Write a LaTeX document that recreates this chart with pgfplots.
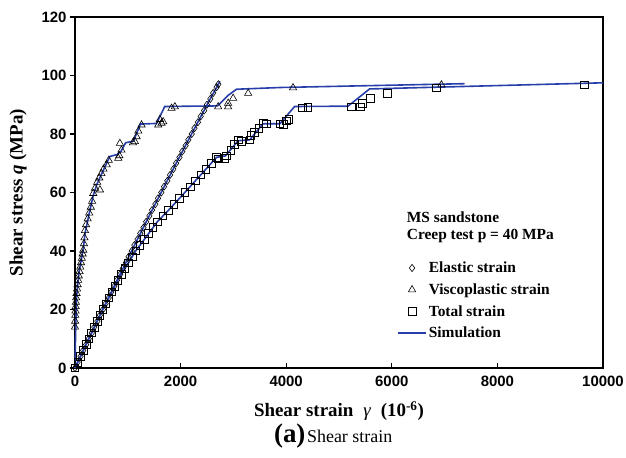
\documentclass[border=0pt]{standalone}
\usepackage{fontspec}
\setmainfont{Liberation Serif}
\newfontfamily\arialfont{Liberation Sans}
\usepackage{pgfplots}
\pgfplotsset{compat=1.18}
\definecolor{simblue}{RGB}{40,62,170}
\pgfplotsset{
  markleg/.style={legend image code/.code={\path (0bp,0bp) (28bp,0bp); \draw[##1] plot coordinates {(14bp,0bp)};}},
  lineleg/.style={legend image code/.code={\draw[##1] (0bp,0bp) -- (28bp,0bp);}},
}
\begin{document}
\begin{tikzpicture}
\begin{axis}[
  scale only axis, width=528bp, height=351bp,
  xmin=0, xmax=10000, ymin=0, ymax=120,
  xtick={0,2000,...,10000}, ytick={0,20,...,120},
  scaled x ticks=false,
  /pgf/number format/1000 sep={},
  /pgf/number format/assume math mode=true,
  tick label style={font=\arialfont\bfseries\fontsize{15}{15}\selectfont},
  tick pos=left, tick align=outside,
  major tick length=5bp,
  major tick style={line width=1.2bp, black},
  xtick style={yshift=5bp},
  axis line style={line width=2.4bp},
  clip=false,
  xlabel={Shear strain\; {\mdseries\itshape γ}\; (10\textsuperscript{-6})},
  ylabel={Shear stress \textit{q} (MPa)},
  label style={font=\bfseries\fontsize{19}{19}\selectfont},
  xlabel style={at={(axis description cs:0.5,-0.1225)}, anchor=center},
  ylabel style={at={(axis description cs:-0.108,0.5)}, anchor=center},
  legend style={draw=none, fill=none, at={(rel axis cs:0.610,0.3085)}, anchor=north west,
    font=\bfseries\fontsize{15.5}{16}\selectfont, row sep=5.5bp, inner sep=0pt,
    nodes={inner sep=2bp}},
  legend cell align=left,
]
% simulations
\addplot[simblue, line width=1.6bp, forget plot] coordinates {
(0,0)(260,10)(528,20)(798,30)(1072,40)(1350,50)(1632,60)(1918,70)(2208,80)(2502,90)(2745,98)};
\addplot[simblue, line width=1.6bp, forget plot] coordinates {
(0,0)(10,10)(20,18)(30,24)(50,28)(80,33)(120,37)(160,41)(190,46)(260,52)(346,59)(420,63)(520,67)(600,70)(660,72.3)(800,73)(870,74)(960,77)(1110,77.6)(1240,83.4)(1545,83.6)(1700,89.4)(2700,89.6)(2900,93.2)(3060,95.3)(3900,95.9)(5500,96.5)(7380,97.2)};
\addplot[simblue, line width=1.6bp, forget plot] coordinates {
(0,0)(262,10)(525,20)(810,30)(1150,40)(1560,50)(1800,54.5)(2080,60)(2380,66)(2680,72)(2850,72.5)(3090,77.7)(3310,78)(3563,83.5)(3880,83.5)(4160,89.4)(5170,89.5)(5580,95.4)(10000,97.5)};
% elastic
\addplot[only marks, mark=diamond, mark size=3.6bp, mark options={draw=black, fill=white, line width=0.6bp}, markleg] coordinates {
(0,0)(50,2)(106,4)(155,6)(212,8)(260,10)(318,12)(366,14)(424,16)(471,18)(530,20)(580,22)(640,24)(688,26)(747,28)(795,30)(855,32)(905,34)(965,36)(1015,38)(1075,40)(1125,42)(1186,44)(1236,46)(1297,48)(1348,50)(1409,52)(1460,54)(1522,56)(1573,58)(1635,60)(1687,62)(1749,64)(1801,66)(1863,68)(1915,70)(1979,72)(2031,74)(2095,76)(2147,78)(2211,80)(2263,82)(2328,84)(2381,86)(2446,88)(2499,90)(2564,92)(2618,94)(2683,96)(2715,97)};
\addlegendentry{Elastic strain}
% viscoplastic
\addplot[only marks, mark=triangle, mark size=4.2bp, mark options={draw=black, fill=white, line width=0.6bp}, markleg] coordinates {
(0,14)(3,16)(6,18)(10,19.5)(14,21)(18,22.5)(22,24)(30,25.5)(40,27)(50,28.5)(60,30)(72,31.5)(85,33)(100,34.5)(115,36)(130,37.5)(145,39)(157,40.3)(170,42.5)(180,44.5)(189,47)(210,49)(240,51)(270,53)(300,55)(325,57)(346,59.7)(473,60.9)(380,61.5)(420,63.5)(460,65)(500,66.5)(540,68)(600,69.5)(640,71)(820,71.7)(840,72.6)(880,74.5)(851,76.8)(1098,77)(1135,77.4)(1167,79.1)(1200,81)(1261,83.1)(1577,83.1)(1608,85)(1640,83.7)(1670,84.2)(1829,88.8)(1892,89.3)(2712,89.3)(2900,89.3)(2900,90.5)(2995,92.2)(3280,93.9)(4130,95.8)(6940,96.8)};
\addlegendentry{Viscoplastic strain}
% total
\addplot[only marks, mark=square, mark size=3.8bp, mark options={draw=black, fill=white, line width=0.6bp}, markleg] coordinates {
(0,0)(52,2)(105,4)(157,6)(209,8)(262,10)(314,12)(367,14)(420,16)(472,18)(525,20)(582,22)(639,24)(696,26)(753,28)(810,30)(876,32)(944,34)(1012,36)(1080,38)(1150,40)(1230,42)(1312,44)(1394,46)(1476,48)(1560,50)(1664,52)(1768,54)(1872,56)(1976,58)(2080,60)(2180,62)(2280,64)(2380,66)(2480,68)(2580,70)(2680,72)(2720,71.5)(2838,71.7)(2870,72.5)(2950,74.5)(3020,76.5)(3090,78)(3150,77.5)(3311,78)(3330,79.5)(3400,80.5)(3480,82)(3563,83.7)(3620,83.5)(3880,83.5)(3942,83.4)(4000,84.5)(4050,85)(4310,88.9)(4410,89.2)(5235,89.3)(5400,89.3)(5440,90.5)(5595,92.2)(5910,93.9)(6843,95.8)(9650,96.8)};
\addlegendentry{Total strain}
\addlegendimage{simblue, line width=1.6bp, lineleg}
\addlegendentry{Simulation}
\node[anchor=west, inner sep=0pt, font=\bfseries\fontsize{15.5}{16}\selectfont] at (axis cs:6282,51.7) {MS sandstone};
\node[anchor=west, inner sep=0pt, font=\bfseries\fontsize{15.5}{16}\selectfont] at (axis cs:6282,45.1) {Creep test p = 40 MPa};
\node[anchor=center, inner sep=0pt] at (rel axis cs:0.489,-0.194) {{\bfseries\fontsize{27}{27}\selectfont (a)}\,{\fontsize{18}{18}\selectfont Shear strain}};
\coordinate (bl) at (rel axis cs:-0.142,-0.2536);
\coordinate (tr) at (rel axis cs:1.0436,1.0484);
\end{axis}
\pgfresetboundingbox
\path[use as bounding box] (bl) rectangle (tr);
\end{tikzpicture}
\end{document}
